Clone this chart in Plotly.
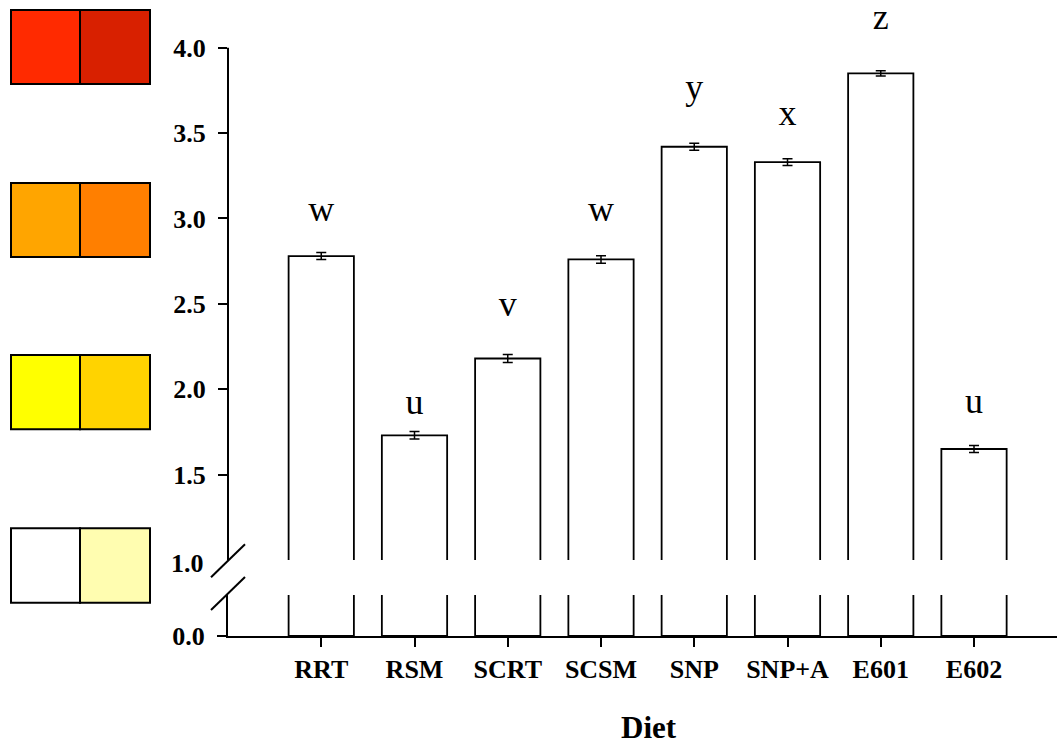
import plotly.graph_objects as go

# ---- data ----
diets = ["RRT", "RSM", "SCRT", "SCSM", "SNP", "SNP+A", "E601", "E602"]
means = [2.78, 1.73, 2.18, 2.76, 3.42, 3.33, 3.85, 1.65]
sems = [0.021, 0.022, 0.024, 0.022, 0.021, 0.020, 0.015, 0.021]
letters = ["w", "u", "v", "w", "y", "x", "z", "u"]
letter_y = [3.04, 1.91, 2.48, 3.04, 3.75, 3.60, 4.16, 1.915]
upper_ticks = [1.5, 2.0, 2.5, 3.0, 3.5, 4.0]
upper_ticktext = ["1.5", "2.0", "2.5", "3.0", "3.5", "4.0"]
swatch_colors = [
    ["#FF2A00", "#D82000"],
    ["#FFA500", "#FF7F00"],
    ["#FFFF00", "#FFD300"],
    ["#FFFFFF", "#FFFDB0"],
]

# ---- layout geometry (pixels) ----
W, H = 1059, 745
L, R, T, B = 228, 2, 0, 109
PW, PH = W - L - R, H - T - B
Y_TOP_PX, Y1_PX = 47.7, 560.0          # pixel rows of 4.0 and 1.0
PX_PER_UNIT = (Y1_PX - Y_TOP_PX) / 3.0
UPPER_MAX = 4.0 + (Y_TOP_PX - T) / PX_PER_UNIT


def px(xp):
    return (xp - L) / PW


def py(yp):
    return (H - B - yp) / PH


FONT = "Liberation Serif"
LW = 1.8

fig = go.Figure()

# lower (broken) panel
fig.add_trace(go.Bar(
    x=diets, y=means, xaxis="x", yaxis="y",
    marker=dict(color="white", line=dict(color="black", width=LW)),
    showlegend=False, hoverinfo="skip",
))
# upper panel
fig.add_trace(go.Bar(
    x=diets, y=means, xaxis="x", yaxis="y2",
    marker=dict(color="white", line=dict(color="black", width=LW)),
    error_y=dict(type="data", array=sems, color="black", thickness=1.5, width=5),
    showlegend=False, hoverinfo="skip",
))
# significance letters
fig.add_trace(go.Scatter(
    x=diets, y=letter_y, xaxis="x", yaxis="y2", mode="text", text=letters,
    textposition="middle center", cliponaxis=False,
    textfont=dict(family=FONT, size=36, color="black"),
    showlegend=False, hoverinfo="skip",
))

tickfont = dict(family=FONT, size=26, color="black", weight="bold")

fig.update_layout(
    width=W, height=H,
    margin=dict(l=L, r=R, t=T, b=B, pad=0),
    paper_bgcolor="white", plot_bgcolor="white",
    bargap=0.3,
    xaxis=dict(
        range=[-1, 7.89], showline=True, linecolor="black", linewidth=2,
        ticks="outside", ticklen=9, tickwidth=2, tickcolor="black",
        showgrid=False, zeroline=False, anchor="y",
        tickfont=dict(family=FONT, size=26, color="black", weight="bold"),
    ),
    yaxis=dict(
        domain=[0, py(595)], range=[0, (636 - 595) / PX_PER_UNIT],
        tickvals=[0], ticktext=["0.0"], tickfont=tickfont,
        showline=True, linecolor="black", linewidth=2,
        ticks="outside", ticklen=9, tickwidth=2, tickcolor="black",
        ticklabelstandoff=7,
        showgrid=False, zeroline=False, anchor="x",
    ),
    yaxis2=dict(
        domain=[py(Y1_PX), 1], range=[1.0, UPPER_MAX],
        tickvals=upper_ticks, ticktext=upper_ticktext, tickfont=tickfont,
        showline=False,
        ticks="outside", ticklen=9, tickwidth=2, tickcolor="black",
        ticklabelstandoff=7,
        showgrid=False, zeroline=False, anchor="x",
    ),
)

# upper axis line (stops at 4.0)
fig.add_shape(type="line", xref="paper", yref="y2", x0=0, x1=0, y0=1.0, y1=4.0,
              line=dict(color="black", width=2))

# "1.0" label at the axis break (no tick mark in the original)
fig.add_annotation(
    text="1.0", x=0, xref="paper", y=1.0, yref="y2",
    xanchor="right", yanchor="middle", xshift=-22, yshift=-3, showarrow=False,
    font=tickfont,
)

# axis title
fig.add_annotation(
    text="Diet", x=px(648.7), xref="paper", y=py(727.5), yref="paper",
    xanchor="center", yanchor="middle", showarrow=False,
    font=dict(family=FONT, size=31, color="black", weight="bold"),
)

# axis break marks
for (x0, y0, x1, y1) in [(211, 577.3, 245, 544.3), (211, 610, 245, 577)]:
    fig.add_shape(type="line", xref="paper", yref="paper",
                  x0=px(x0), y0=py(y0), x1=px(x1), y1=py(y1),
                  line=dict(color="black", width=2))

# colour swatches
rows_y = [(10, 84), (183, 257), (355, 429.3), (528.3, 602.7)]
cols_x = [(11, 80), (80, 150)]
for (ya, yb), pair in zip(rows_y, swatch_colors):
    for (xa, xb), col in zip(cols_x, pair):
        fig.add_shape(type="rect", xref="paper", yref="paper",
                      x0=px(xa), x1=px(xb), y0=py(yb), y1=py(ya),
                      fillcolor=col, line=dict(color="black", width=2))

fig.write_html("out.html")
